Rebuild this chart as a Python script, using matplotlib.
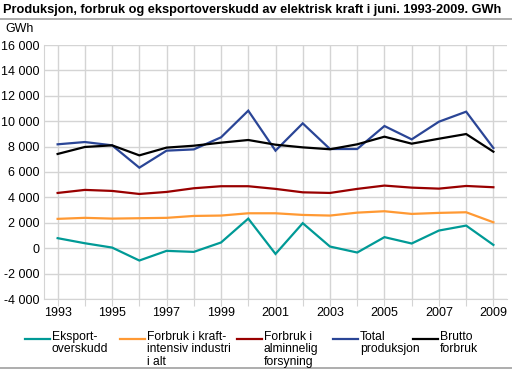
import numpy as np
import matplotlib.pyplot as plt
from matplotlib.lines import Line2D

plt.rcParams['font.family'] = ['Liberation Sans', 'DejaVu Sans']

years = list(range(1993, 2010))
eksport = [790, 390, 50, -970, -210, -290, 450, 2330, -450, 1970, 130, -340, 870, 370, 1390, 1780, 260]
kraftintensiv = [2310, 2390, 2330, 2360, 2390, 2540, 2570, 2750, 2750, 2620, 2570, 2800, 2910, 2700, 2780, 2830, 2040]
alminnelig = [4350, 4590, 4510, 4270, 4430, 4720, 4880, 4880, 4670, 4400, 4350, 4670, 4930, 4770, 4690, 4900, 4800]
total_prod = [8180, 8360, 8100, 6340, 7680, 7780, 8730, 10830, 7680, 9830, 7810, 7810, 9620, 8570, 9960, 10750, 7890]
brutto = [7420, 7970, 8100, 7310, 7920, 8070, 8310, 8520, 8150, 7940, 7790, 8180, 8780, 8230, 8620, 8990, 7600]

labels = ['Eksport-\noverskudd', 'Forbruk i kraft-\nintensiv industri\ni alt',
          'Forbruk i\nalminnelig\nforsyning', 'Total\nproduksjon', 'Brutto\nforbruk']
colors = ['#009a96', '#ff9933', '#990000', '#2a4596', '#000000']
series = [eksport, kraftintensiv, alminnelig, total_prod, brutto]

W, H = 512, 370
fig = plt.figure(figsize=(W / 100, H / 100), dpi=100)
ax = fig.add_axes([44 / W, 1 - 299 / H, (507 - 44) / W, (299 - 45) / H])

for s, c in zip(series, colors):
    ax.plot(years, s, color=c, lw=1.6, solid_joinstyle='miter', zorder=3)

ax.set_xlim(1992.5, 2009.5)
ax.set_ylim(-4000, 16000)
ax.set_yticks(range(-4000, 16001, 2000))
ax.set_yticklabels([f'{v:,}'.replace(',', ' ') for v in range(-4000, 16001, 2000)])
ax.set_xticks(years)
ax.set_xticklabels([str(y) if y % 2 == 1 else '' for y in years])
ax.grid(True, color='#d4d4d4', lw=1)
ax.set_axisbelow(True)
for k in ['top', 'right']:
    ax.spines[k].set_visible(False)
for k in ['left', 'bottom']:
    ax.spines[k].set_color('#d4d4d4')
ax.tick_params(axis='x', length=5, color='#d4d4d4', labelsize=9, pad=1)
ax.tick_params(axis='y', length=0, labelsize=9, pad=3)

fig.text(3 / W, 1 - 10 / H, 'Produksjon, forbruk og eksportoverskudd av elektrisk kraft i juni. 1993-2009. GWh',
         fontsize=9.15, fontweight='bold', va='center', ha='left')
fig.add_artist(Line2D([0, 1], [1 - 19 / H, 1 - 19 / H], color='#a0a0a0', lw=1.2))
fig.add_artist(Line2D([0, 1], [1 - 368 / H, 1 - 368 / H], color='#a0a0a0', lw=1.2))
fig.text(5 / W, 1 - 29 / H, 'GWh', fontsize=9, va='center', ha='left')

# legend drawn by hand so handles sit at the first text line
leg_x = [25, 120, 237, 333, 413]
for x0, lab, c in zip(leg_x, labels, colors):
    y = 1 - 339 / H
    fig.add_artist(Line2D([x0 / W, (x0 + 25) / W], [y, y], color=c, lw=1.6))
    fig.text((x0 + 27) / W, 1 - 331 / H, lab, fontsize=8.7, va='top', ha='left', linespacing=1.05)

fig.savefig('out.png', dpi=100)
